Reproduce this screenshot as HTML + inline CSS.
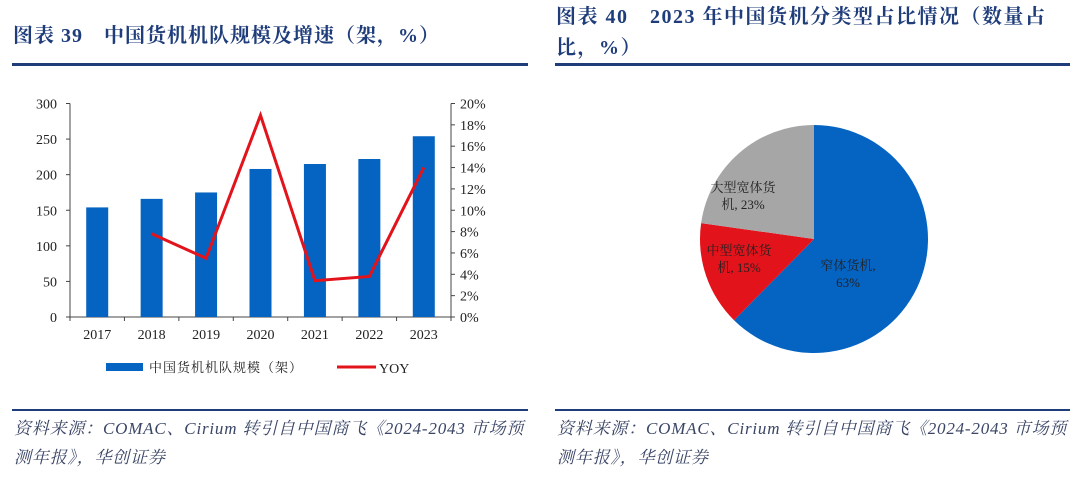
<!DOCTYPE html>
<html><head><meta charset="utf-8"><style>
body{margin:0;width:1080px;height:478px;background:#fff;position:relative;overflow:hidden;font-family:"Liberation Serif","Noto Serif CJK SC",serif}
.t{position:absolute;color:#1f3d7a;font-weight:bold;font-size:20px;letter-spacing:1.5px;white-space:nowrap;font-family:"Liberation Serif","Noto Serif CJK SC",serif}
.ln{position:absolute;height:3px;background:#1f3d7a}
.src{position:absolute;color:#3a4566;font-style:italic;font-size:17px;letter-spacing:0.8px;line-height:29px;white-space:nowrap;font-family:"Liberation Serif","Noto Serif CJK SC",serif}
svg{position:absolute;left:0;top:0}
</style></head><body>
<div class="t" style="left:13px;top:19px;letter-spacing:1px">图表 39　中国货机机队规模及增速（架，%）</div>
<div class="ln" style="left:12px;top:63px;width:516px"></div>
<div class="t" style="left:556px;top:2px;line-height:31px">图表 40　2023 年中国货机分类型占比情况（数量占<br>比，%）</div>
<div class="ln" style="left:555px;top:63px;width:515px"></div>
<div class="ln" style="left:12px;top:409px;width:516px;height:2px"></div>
<div class="ln" style="left:555px;top:409px;width:515px;height:2px"></div>
<div class="src" style="left:14px;top:414px">资料来源：COMAC、Cirium 转引自中国商飞《2024-2043 市场预<br>测年报》，华创证券</div>
<div class="src" style="left:557px;top:414px">资料来源：COMAC、Cirium 转引自中国商飞《2024-2043 市场预<br>测年报》，华创证券</div>
<svg id="c" width="1080" height="478"></svg>
<script>
const years=['2017','2018','2019','2020','2021','2022','2023'];
const fleet=[154,166,175,208,215,222,254];
const yoy=[null,7.8,5.5,18.9,3.4,3.8,14.0];
const leftTicks=[0,50,100,150,200,250,300];
const rightTicks=[0,2,4,6,8,10,12,14,16,18,20];
const pieLabels=[['窄体货机,','63%'],['中型宽体货','机, 15%'],['大型宽体货','机, 23%']];
const pieValues=[63,15,23];
const pieColors=['#0563c1','#e3131b','#a6a6a6'];

const NS='http://www.w3.org/2000/svg',svg=document.getElementById('c');
function mk(t,a,txt){const e=document.createElementNS(NS,t);for(const k in a)e.setAttribute(k,a[k]);if(txt!=null)e.textContent=txt;svg.appendChild(e);return e;}
const X0=70,X1=451,Y0=317,Y1=103.5,n=years.length,cw=(X1-X0)/n;
const yL=v=>Y0-(v/300)*(Y0-Y1), yR=v=>Y0-(v/20)*(Y0-Y1), xc=i=>X0+cw*(i+0.5);
const F='font-family:"Liberation Serif",serif;font-size:14px;fill:#222';
let e;
e=mk('line',{x1:X0,y1:Y1,x2:X0,y2:Y0,stroke:'#444'});

e=mk('line',{x1:X1,y1:Y1,x2:X1,y2:Y0,stroke:'#444'});

e=mk('line',{x1:X0,y1:Y0,x2:X1,y2:Y0,stroke:'#444'});

leftTicks.forEach(v=>{mk('line',{x1:X0-4,y1:yL(v),x2:X0,y2:yL(v),stroke:'#444'});
 e=mk('text',{x:X0-13,y:yL(v)+5,'text-anchor':'end',style:F},v);
 });
rightTicks.forEach(v=>{mk('line',{x1:X1,y1:yR(v),x2:X1+4,y2:yR(v),stroke:'#444'});
 e=mk('text',{x:X1+9,y:yR(v)+5,style:F},v+'%');
 });
for(let i=0;i<=n;i++)mk('line',{x1:X0+cw*i,y1:Y0,x2:X0+cw*i,y2:Y0+4,stroke:'#444'});
years.forEach((y,i)=>{
 e=mk('rect',{x:xc(i)-11,y:yL(fleet[i]),width:22,height:Y0-yL(fleet[i]),fill:'#0563c1'});
 
 e=mk('text',{x:xc(i),y:Y0+22,'text-anchor':'middle',style:F},y);
 
});
const pts=yoy.map((v,i)=>v==null?null:xc(i)+','+yR(v)).filter(p=>p);
e=mk('polyline',{points:pts.join(' '),fill:'none',stroke:'#e3131b','stroke-width':3,'stroke-linejoin':'miter'});

e=mk('rect',{x:106,y:363,width:37,height:8,fill:'#0563c1'});

e=mk('text',{x:149,y:372,style:'font-family:"Liberation Serif","Noto Serif CJK SC",serif;font-size:13px;fill:#222;letter-spacing:1px'},'中国货机机队规模（架）');

e=mk('line',{x1:337,y1:367,x2:376,y2:367,stroke:'#e3131b','stroke-width':3});

e=mk('text',{x:379,y:373,style:F},'YOY');


// pie
const cx=814,cy=239,r=114,tot=pieValues.reduce((a,b)=>a+b,0);
let a0=0;
const lblPos=[[848,270],[739,255],[743,192]];
pieValues.forEach((v,i)=>{
 const a1=a0+v/tot*2*Math.PI;
 const p=a=>[cx+r*Math.sin(a),cy-r*Math.cos(a)];
 const [x0,y0]=p(a0),[x1,y1]=p(a1);
 e=mk('path',{d:`M${cx},${cy}L${x0},${y0}A${r},${r} 0 ${a1-a0>Math.PI?1:0} 1 ${x1},${y1}Z`,fill:pieColors[i]});
 
 const t=mk('text',{x:lblPos[i][0],y:lblPos[i][1],'text-anchor':'middle',style:'font-family:"Liberation Serif","Noto Serif CJK SC",serif;font-size:13px;fill:#222'});
 
 pieLabels[i].forEach((s,k)=>{const ts=document.createElementNS(NS,'tspan');ts.setAttribute('x',lblPos[i][0]);ts.setAttribute('dy',k?17:0);ts.textContent=s;t.appendChild(ts);});
 a0=a1;
});
</script>
</body></html>
